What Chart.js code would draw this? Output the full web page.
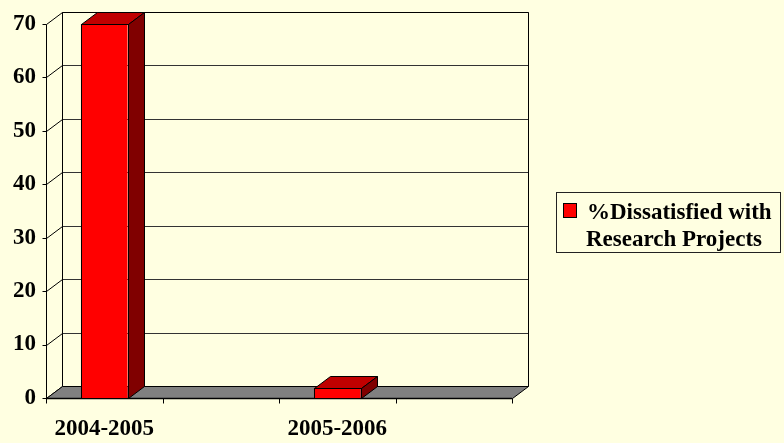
<!doctype html>
<html lang="en">
<head>
<meta charset="UTF-8" />
<title>%Dissatisfied with Research Projects</title>
<style>
  html, body { margin: 0; padding: 0; background: #FFFFE1; }
  #wrap { width: 784px; height: 443px; }
</style>
</head>
<body>
<div id="wrap"><canvas id="chart" width="784" height="443"></canvas></div>
<script src="https://cdn.jsdelivr.net/npm/chart.js"></script>
<script>
// data
const categories = ['2004-2005', '', '2005-2006', ''];
const dissatisfied = [70, null, 1.9, null];
const seriesName = '%Dissatisfied with Research Projects';
const legendLines = ['%Dissatisfied with', 'Research Projects'];
const yMin = 0;
const yMax = 70;
const yStep = 10;

const BG = '#FFFFE1';
const FONT = 'bold 23px "Liberation Serif", "Times New Roman", serif';
const DX = 16, DY = -12; // depth of the 3d box

function px(v) { return Math.round(v) + 0.5; }

const box3d = {
  id: 'box3d',
  beforeDraw(chart) {
    const ctx = chart.ctx;
    ctx.save();
    ctx.fillStyle = BG;
    ctx.fillRect(0, 0, chart.width, chart.height);
    ctx.restore();
  },
  beforeDatasetsDraw(chart) {
    const ctx = chart.ctx;
    const a = chart.chartArea;
    const y = chart.scales.y;
    const L = a.left, R = a.right, T = a.top, B = a.bottom;
    ctx.save();
    ctx.lineWidth = 1;
    ctx.strokeStyle = '#000';

    // back wall grid + left wall diagonals
    for (let v = yMin; v <= yMax; v += yStep) {
      const yy = y.getPixelForValue(v);
      ctx.beginPath();
      ctx.strokeStyle = '#333';
      ctx.moveTo(px(L + DX), px(yy + DY));
      ctx.lineTo(px(R + DX), px(yy + DY));
      ctx.stroke();
      ctx.strokeStyle = '#000';
      ctx.beginPath();
      ctx.moveTo(px(L), px(yy));
      ctx.lineTo(px(L + DX), px(yy + DY));
      ctx.stroke();
      // tick mark
      ctx.beginPath();
      ctx.moveTo(px(L - 4), px(yy));
      ctx.lineTo(px(L), px(yy));
      ctx.stroke();
    }

    // walls outline
    ctx.beginPath();
    ctx.moveTo(px(L), px(B));
    ctx.lineTo(px(L), px(T));
    ctx.moveTo(px(L + DX), px(B + DY));
    ctx.lineTo(px(L + DX), px(T + DY));
    ctx.lineTo(px(R + DX), px(T + DY));
    ctx.lineTo(px(R + DX), px(B + DY));
    ctx.stroke();

    // floor
    ctx.beginPath();
    ctx.moveTo(px(L), px(B));
    ctx.lineTo(px(R), px(B));
    ctx.lineTo(px(R + DX), px(B + DY));
    ctx.lineTo(px(L + DX), px(B + DY));
    ctx.closePath();
    ctx.fillStyle = '#808080';
    ctx.fill();
    ctx.stroke();
    ctx.lineWidth = 1.5;
    ctx.beginPath();
    ctx.moveTo(L, px(B));
    ctx.lineTo(R, px(B));
    ctx.stroke();
    ctx.lineWidth = 1;

    // category ticks
    const step = (R - L) / categories.length;
    for (let i = 0; i <= categories.length; i++) {
      const xx = L + i * step;
      ctx.beginPath();
      ctx.moveTo(px(xx), px(B));
      ctx.lineTo(px(xx), px(B + 5));
      ctx.stroke();
    }
    ctx.restore();
  },
  afterDatasetsDraw(chart) {
    const ctx = chart.ctx;
    const meta = chart.getDatasetMeta(0);
    ctx.save();
    ctx.lineWidth = 1;
    ctx.strokeStyle = '#000';
    meta.data.forEach((bar, i) => {
      if (dissatisfied[i] == null) return;
      const p = bar.getProps(['x', 'y', 'base', 'width'], true);
      const l = p.x - p.width / 2, r = p.x + p.width / 2, t = p.y, b = p.base;
      // top
      ctx.beginPath();
      ctx.moveTo(px(l), px(t));
      ctx.lineTo(px(r), px(t));
      ctx.lineTo(px(r + DX), px(t + DY));
      ctx.lineTo(px(l + DX), px(t + DY));
      ctx.closePath();
      ctx.fillStyle = '#C00000';
      ctx.fill();
      ctx.stroke();
      // side
      ctx.beginPath();
      ctx.moveTo(px(r), px(t));
      ctx.lineTo(px(r + DX), px(t + DY));
      ctx.lineTo(px(r + DX), px(b + DY));
      ctx.lineTo(px(r), px(b));
      ctx.closePath();
      ctx.fillStyle = '#800000';
      ctx.fill();
      ctx.stroke();
      // front outline
      ctx.strokeRect(px(l), px(t), Math.round(r - l), Math.round(b - t));
    });
    ctx.restore();
  },
  afterDraw(chart) {
    // legend
    const ctx = chart.ctx;
    ctx.save();
    ctx.fillStyle = BG;
    ctx.fillRect(556, 192, 225, 61);
    ctx.strokeStyle = '#222';
    ctx.lineWidth = 1;
    ctx.strokeRect(556.5, 192.5, 224, 60);
    ctx.fillStyle = chart.data.datasets[0].backgroundColor;
    ctx.fillRect(563, 203, 14, 15);
    ctx.strokeStyle = '#000';
    ctx.strokeRect(563.5, 203.5, 13, 14);
    ctx.fillStyle = '#000';
    ctx.font = FONT;
    ctx.textAlign = 'left';
    ctx.textBaseline = 'alphabetic';
    ctx.fillText(legendLines[0], 587, 219);
    ctx.fillText(legendLines[1], 586, 246);
    ctx.restore();
  }
};

const tickFont = { family: '"Liberation Serif", "Times New Roman", serif', size: 23, weight: 'bold' };

new Chart(document.getElementById('chart'), {
  type: 'bar',
  data: {
    labels: categories,
    datasets: [{
      label: seriesName,
      data: dissatisfied,
      backgroundColor: '#FF0000',
      borderWidth: 0,
      barPercentage: 0.4,
      categoryPercentage: 1.0
    }]
  },
  options: {
    responsive: false,
    animation: false,
    devicePixelRatio: 1,
    layout: { padding: { top: 21, right: 272, left: 0, bottom: 0 } },
    plugins: { legend: { display: false }, tooltip: { enabled: false } },
    scales: {
      x: {
        grid: { display: false, drawTicks: false },
        border: { display: false },
        ticks: { color: '#000', font: tickFont, padding: 17, maxRotation: 0, autoSkip: false },
        afterFit(s) { s.height = 45; }
      },
      y: {
        min: yMin,
        max: yMax,
        grid: { display: false, drawTicks: false },
        border: { display: false },
        ticks: { stepSize: yStep, color: '#000', font: tickFont, padding: 10 },
        afterFit(s) { s.width = 46; }
      }
    }
  },
  plugins: [box3d]
});
</script>
</body>
</html>
